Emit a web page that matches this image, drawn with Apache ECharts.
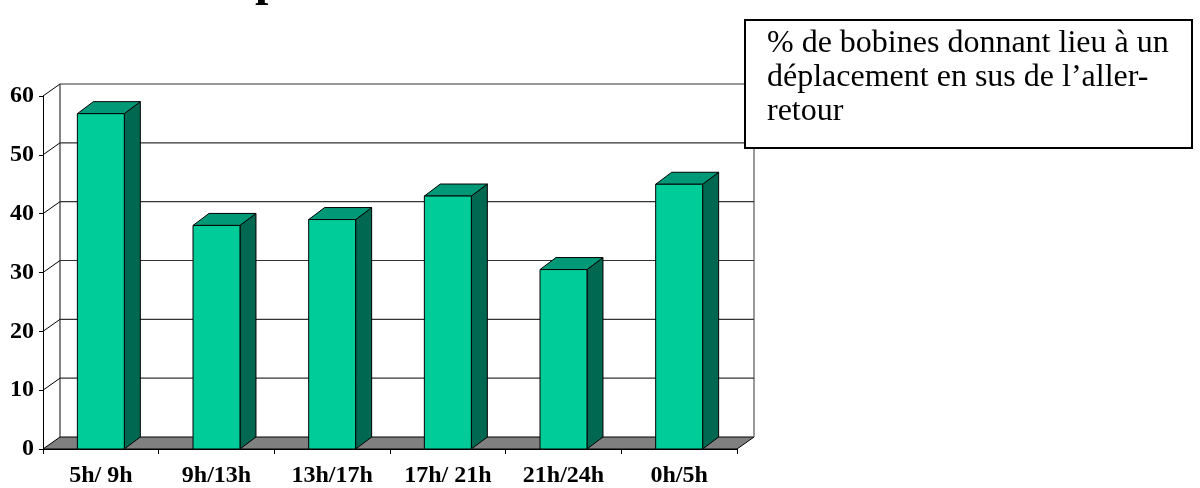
<!DOCTYPE html>
<html>
<head>
<meta charset="utf-8">
<script src="https://cdn.jsdelivr.net/npm/echarts@6/dist/echarts.min.js"></script>
<style>
html,body{margin:0;padding:0;background:#fff;}
#chart{width:1200px;height:488px;}
</style>
</head>
<body>
<div id="chart"></div>
<script>
const categories = ['5h/ 9h', '9h/13h', '13h/17h', '17h/ 21h', '21h/24h', '0h/5h'];
const values = [57, 38, 39, 43, 30.5, 45];
const yTicks = [0, 10, 20, 30, 40, 50, 60];
const legendLines = ['% de bobines donnant lieu à un', 'déplacement en sus de l’aller-', 'retour'];
const titleFragment = 'p';

const WALL_DX = 17, WALL_DY = 12;   // depth offset of back wall
const BAR_DX = 16, BAR_DY = 12;     // depth offset of bars
const LINE = '#333333';

const chart = echarts.init(document.getElementById('chart'), null, {renderer: 'canvas'});

function frameItem(params, api) {
  const cs = params.coordSys;
  const y = api.coord([0, api.value(1)])[1];
  const x0 = cs.x, x1 = cs.x + cs.width;
  const children = [];
  if (params.dataIndex === 0) {
    children.push({
      type: 'polygon',
      shape: {points: [[x0, y], [x1, y], [x1 + WALL_DX, y - WALL_DY], [x0 + WALL_DX, y - WALL_DY]]},
      style: {fill: '#808080', stroke: '#000', lineWidth: 1}
    });
    const yTop = api.coord([0, yTicks[yTicks.length - 1]])[1];
    children.push({type: 'line', shape: {x1: x0 + WALL_DX, y1: y - WALL_DY, x2: x0 + WALL_DX, y2: yTop - WALL_DY}, style: {stroke: LINE, lineWidth: 1.2}});
    children.push({type: 'line', shape: {x1: x1 + WALL_DX, y1: y - WALL_DY, x2: x1 + WALL_DX, y2: yTop - WALL_DY}, style: {stroke: '#777', lineWidth: 1.5}});
  } else {
    children.push({type: 'line', shape: {x1: x0 + WALL_DX, y1: y - WALL_DY, x2: x1 + WALL_DX, y2: y - WALL_DY}, style: {stroke: LINE, lineWidth: 1.2}});
    children.push({type: 'line', shape: {x1: x0, y1: y, x2: x0 + WALL_DX, y2: y - WALL_DY}, style: {stroke: '#000', lineWidth: 1}});
  }
  return {type: 'group', children};
}

function barItem(params, api) {
  const top = api.coord([api.value(0), api.value(1)]);
  const base = api.coord([api.value(0), 0]);
  const hw = api.size([1, 0])[0] * 0.203;
  const l = top[0] - hw, r = top[0] + hw, t = top[1], b = base[1];
  return {
    type: 'group',
    children: [
      {type: 'polygon', shape: {points: [[r, t], [r + BAR_DX, t - BAR_DY], [r + BAR_DX, b - BAR_DY], [r, b]]},
       style: {fill: '#006850', stroke: '#000', lineWidth: 1}},
      {type: 'polygon', shape: {points: [[l, t], [r, t], [r + BAR_DX, t - BAR_DY], [l + BAR_DX, t - BAR_DY]]},
       style: {fill: '#009977', stroke: '#000', lineWidth: 1}},
      {type: 'rect', shape: {x: l, y: t, width: r - l, height: b - t},
       style: {fill: '#00CC99', stroke: '#000', lineWidth: 1}}
    ]
  };
}

chart.setOption({
  animation: false,
  backgroundColor: '#ffffff',
  grid: {left: 43, right: 463, top: 96, bottom: 39, containLabel: false},
  xAxis: {
    type: 'category',
    data: categories,
    boundaryGap: true,
    axisLine: {show: true, lineStyle: {color: '#000', width: 1}},
    axisTick: {show: true, length: 5, inside: false, lineStyle: {color: '#000'}},
    axisLabel: {color: '#000', fontFamily: 'Liberation Serif', fontWeight: 'bold', fontSize: 24, margin: 15, interval: 0},
    splitLine: {show: false},
    z: 1
  },
  yAxis: {
    type: 'value',
    min: 0, max: 60, interval: 10,
    axisLine: {show: true, lineStyle: {color: '#000', width: 1}},
    axisTick: {show: true, length: 4, lineStyle: {color: '#000'}},
    axisLabel: {color: '#000', fontFamily: 'Liberation Serif', fontWeight: 'bold', fontSize: 24, margin: 9},
    splitLine: {show: false}
  },
  series: [
    {
      type: 'custom',
      name: 'frame',
      coordinateSystem: 'cartesian2d',
      clip: false,
      silent: true,
      z: 0,
      data: yTicks.map(v => [0, v]),
      encode: {x: 0, y: 1},
      renderItem: frameItem
    },
    {
      type: 'custom',
      name: 'bars',
      coordinateSystem: 'cartesian2d',
      clip: false,
      z: 5,
      data: values.map((v, i) => [i, v]),
      encode: {x: 0, y: 1},
      renderItem: barItem
    }
  ],
  graphic: [
    {
      type: 'text', left: 255, top: -41, z: 10,
      style: {text: titleFragment, fill: '#000', font: 'bold 48px "Liberation Serif"'}
    },
    {
      type: 'rect', z: 20,
      shape: {x: 745, y: 20, width: 447, height: 128},
      style: {fill: '#fff', stroke: '#000', lineWidth: 2}
    },
    {
      type: 'text', z: 21, x: 767, y: 27,
      style: {text: legendLines.join('\n'), fill: '#000', font: '32px "Liberation Serif"', lineHeight: 34, verticalAlign: 'top', align: 'left'}
    }
  ]
});
</script>
</body>
</html>
